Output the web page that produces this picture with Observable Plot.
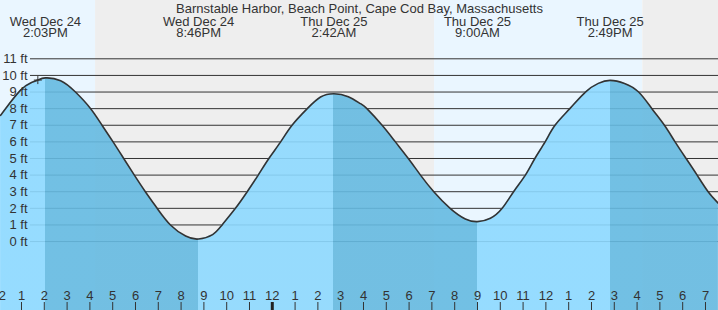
<!DOCTYPE html>
<html><head><meta charset="utf-8">
<script src="https://cdn.jsdelivr.net/npm/d3@7"></script>
<script src="https://cdn.jsdelivr.net/npm/@observablehq/plot@0.6"></script>
<style>
html,body{margin:0;padding:0;background:#fff;}
#chart svg{display:block;}
</style>
</head><body><div id="chart"></div>
<script>
const title = "Barnstable Harbor, Beach Point, Cape Cod Bay, Massachusetts";

// tide series (local time, feet)
const tideTimes = [
  "2025-12-24T12:05","2025-12-24T12:18","2025-12-24T12:57","2025-12-24T13:24","2025-12-24T13:43",
  "2025-12-24T14:03","2025-12-24T14:43","2025-12-24T15:22","2025-12-24T16:02","2025-12-24T16:32",
  "2025-12-24T17:01","2025-12-24T17:29","2025-12-24T17:57","2025-12-24T18:26","2025-12-24T18:57",
  "2025-12-24T19:32","2025-12-24T20:12","2025-12-24T20:46","2025-12-24T21:23","2025-12-24T21:48",
  "2025-12-24T22:23","2025-12-24T22:54","2025-12-24T23:23","2025-12-24T23:51","2025-12-25T00:22",
  "2025-12-25T00:52","2025-12-25T01:32","2025-12-25T02:07","2025-12-25T02:42","2025-12-25T03:20",
  "2025-12-25T03:52","2025-12-25T04:09","2025-12-25T04:49","2025-12-25T05:24","2025-12-25T05:58",
  "2025-12-25T06:30","2025-12-25T07:05","2025-12-25T07:48","2025-12-25T08:28","2025-12-25T09:00",
  "2025-12-25T09:34","2025-12-25T10:05","2025-12-25T10:35","2025-12-25T11:06","2025-12-25T11:31",
  "2025-12-25T11:58","2025-12-25T12:24","2025-12-25T13:03","2025-12-25T13:44","2025-12-25T14:18",
  "2025-12-25T14:49","2025-12-25T15:27","2025-12-25T16:04","2025-12-25T16:39","2025-12-25T17:12",
  "2025-12-25T17:40","2025-12-25T18:09","2025-12-25T18:38","2025-12-25T19:07","2025-12-25T19:34"
];
const tideHeights = [
  7.6, 8.0, 9.1, 9.55, 9.72,
  9.85, 9.68, 9.0, 8.0, 7.0,
  6.0, 5.0, 4.0, 3.0, 2.0,
  1.0, 0.33, 0.15, 0.42, 1.0,
  2.0, 3.0, 4.0, 5.0, 6.0,
  7.0, 8.0, 8.7, 8.9, 8.72,
  8.3, 8.0, 7.0, 6.0, 5.0,
  4.0, 3.0, 2.0, 1.36, 1.2,
  1.4, 2.0, 3.0, 4.0, 5.0,
  6.0, 7.0, 8.0, 9.0, 9.52,
  9.7, 9.52, 9.0, 8.0, 7.0,
  6.0, 5.0, 4.0, 3.0, 2.3
];

// high / low tides
const extremeTimes = ["2025-12-24T14:03","2025-12-24T20:46","2025-12-25T02:42","2025-12-25T09:00","2025-12-25T14:49"];
const extremeKinds = ["high","low","high","low","high"];
const extremeDays  = ["Wed Dec 24","Wed Dec 24","Thu Dec 25","Thu Dec 25","Thu Dec 25"];
const extremeClock = ["2:03PM","8:46PM","2:42AM","9:00AM","2:49PM"];

// daylight / night bands
const bandStarts = ["2025-12-24T12:00","2025-12-24T16:15","2025-12-25T07:07","2025-12-25T16:15"];
const bandEnds   = ["2025-12-24T16:15","2025-12-25T07:07","2025-12-25T16:15","2025-12-25T20:00"];
const bandKinds  = ["day","night","day","night"];

// current time marker
const nowTime = "2025-12-24T13:43";
const nowHeight = 9.72;

const feetTicks = [0,1,2,3,4,5,6,7,8,9,10,11];
const hourStart = "2025-12-24T12:00";
const hourEnd = "2025-12-25T20:00";
const xDomain = ["2025-12-24T12:04:45","2025-12-25T19:34:15"];
const yDomain = [-4.15, 14.51];

// colours
const colors = {day:"#eaf6ff", night:"#eeeeee", rising:"#8dd9ff", falling:"#65bae1", ink:"#333333"};

// build tables
const points = tideTimes.map((t,i)=>({t:new Date(t), h:tideHeights[i]}));
const segKind = k => k < extremeKinds.length
  ? (extremeKinds[k]==="high" ? "rising" : "falling")
  : (extremeKinds[extremeKinds.length-1]==="high" ? "falling" : "rising");
const extremes = extremeTimes.map((t,i)=>({t:new Date(t), day:extremeDays[i], clock:extremeClock[i]}));
const bands = bandStarts.map((s,i)=>({x1:new Date(s), x2:new Date(bandEnds[i]), kind:bandKinds[i]}));
const hours = d3.timeHour.range(new Date(hourStart), new Date(hourEnd));
const hourFmt = d3.timeFormat("%-I");

// gradient with hard stops at each high / low, positioned through the x scale
function tideGradient(index, scales, values, dimensions) {
  const ns = "http://www.w3.org/2000/svg";
  const defs = document.createElementNS(ns, "defs");
  const grad = document.createElementNS(ns, "linearGradient");
  const W = dimensions.width;
  grad.setAttribute("id", "tide-fill");
  grad.setAttribute("gradientUnits", "userSpaceOnUse");
  grad.setAttribute("x1", 0); grad.setAttribute("x2", W);
  grad.setAttribute("y1", 0); grad.setAttribute("y2", 0);
  const stop = (off, color) => {
    const s = document.createElementNS(ns, "stop");
    s.setAttribute("offset", Math.max(0, Math.min(1, off)));
    s.setAttribute("stop-color", color);
    grad.appendChild(s);
  };
  stop(0, colors[segKind(0)]);
  extremes.forEach((e, k) => {
    const off = scales.x(e.t) / W;
    stop(off, colors[segKind(k)]);
    stop(off, colors[segKind(k + 1)]);
  });
  stop(1, colors[segKind(extremes.length)]);
  defs.appendChild(grad);
  return defs;
}

const chart = Plot.plot({
  width: 718, height: 310,
  marginTop: 0, marginRight: 0, marginBottom: 0, marginLeft: 0,
  x: {type: "time", domain: xDomain.map(d=>new Date(d)), axis: null},
  y: {domain: yDomain, axis: null},
  color: {type: "identity"},
  style: {fontFamily: "'Liberation Sans', Arial, sans-serif", fontSize: "13px", background: "#fff", overflow: "hidden"},
  marks: [
    tideGradient,
    Plot.rect(bands, {x1:"x1", x2:"x2", y1: yDomain[0], y2: yDomain[1], fill: d => colors[d.kind]}),
    Plot.ruleY(feetTicks, {y: d=>d, stroke: colors.ink, strokeWidth: 1, insetLeft: 30}),
    Plot.areaY(points, {x:"t", y1: yDomain[0], y2:"h", fill: "url(#tide-fill)", fillOpacity: 0.9, curve:"natural"}),
    Plot.line(points, {x:"t", y:"h", curve:"natural", stroke: colors.ink, strokeWidth: 1.6}),
    Plot.text(feetTicks, {y: d=>d, text: d=>`${d} ft`, frameAnchor:"left", textAnchor:"end", dx: 27, fill: colors.ink, fontSize: 13}),
    Plot.dot([{t:new Date(nowTime), h:nowHeight}], {x:"t", y:"h", symbol:"plus", r:2.7, stroke: colors.ink, strokeWidth:1}),
    Plot.text([title], {text: d=>d, frameAnchor:"top", lineAnchor:"bottom", dy: 12, fill: colors.ink, fontSize: 13}),
    Plot.text(extremes, {x:"t", text: d => `${d.day}\n${d.clock}`, frameAnchor:"top", lineAnchor:"bottom", lineHeight: 11/13, dy: 36, fill: colors.ink, fontSize: 13}),
    Plot.ruleX(hours, {x: d=>d, insetTop: 302, stroke: d => d.getHours()===0 ? "#222" : colors.ink, strokeWidth: d => d.getHours()===0 ? 3 : 1}),
    Plot.text(hours, {x: d=>d, text: d=>hourFmt(d), frameAnchor:"bottom", lineAnchor:"bottom", dy: -10.5, fill: colors.ink, fontSize: 13})
  ]
});
document.getElementById("chart").appendChild(chart);
</script>
</body></html>
